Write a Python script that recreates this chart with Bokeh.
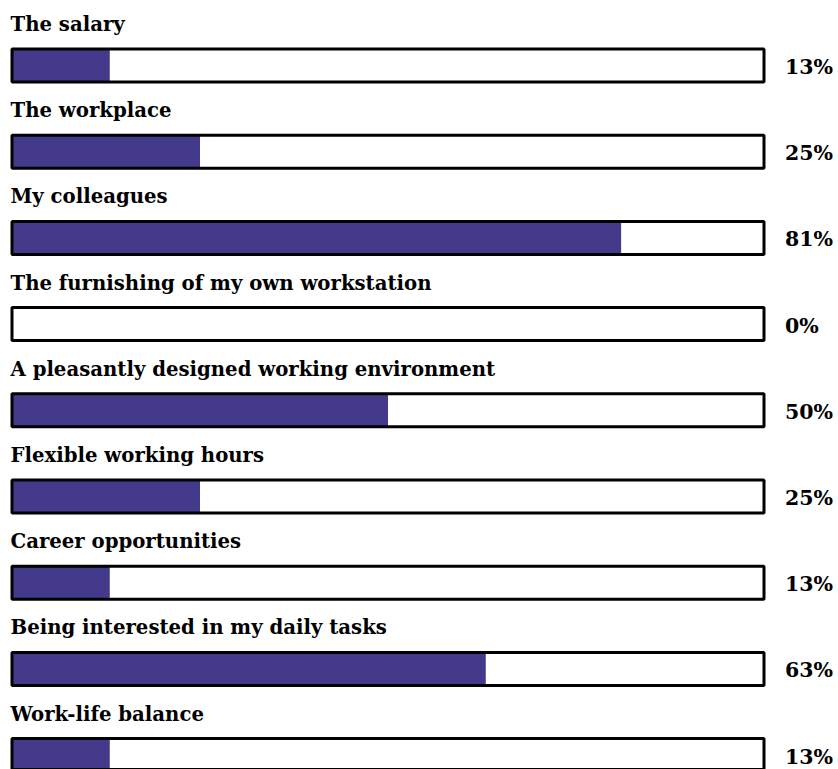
from bokeh.plotting import figure
from bokeh.models import Range1d, ColumnDataSource
from bokeh.core.properties import value
from bokeh.embed import file_html
from bokeh.resources import INLINE

categories = [
    "The salary",
    "The workplace",
    "My colleagues",
    "The furnishing of my own workstation",
    "A pleasantly designed working environment",
    "Flexible working hours",
    "Career opportunities",
    "Being interested in my daily tasks",
    "Work-life balance",
]
percent_values = [13, 25, 81, 0, 50, 25, 13, 63, 13]
value_labels = [f"{v}%" for v in percent_values]

W, H = 838, 769
px_per_pct = 7.52
x0 = -11.5 / px_per_pct
x1 = x0 + W / px_per_pct
row_px = 86.2
y_top = (0 - 65.0) / row_px
y_bot = y_top + H / row_px

rows = list(range(len(categories)))
src = ColumnDataSource(dict(
    row=rows,
    cat=categories,
    val=percent_values,
    lab=value_labels,
    zero=[0] * len(rows),
    full=[100] * len(rows),
    lab_y=[r - 41 / row_px for r in rows],
    pct_y=[r + 1.5 / row_px for r in rows],
    lab_x=[-0.2] * len(rows),
    pct_x=[102.8] * len(rows),
))

p = figure(width=W, height=H, output_backend="svg", toolbar_location=None,
           x_range=Range1d(x0, x1), y_range=Range1d(y_bot, y_top),
           min_border=0, outline_line_color=None)
p.axis.visible = False
p.grid.visible = False

bh = 33 / row_px
p.hbar(y="row", left="zero", right="full", height=bh, source=src,
       fill_color="white", line_color=None)
p.hbar(y="row", left="zero", right="val", height=bh, source=src,
       fill_color="#433A8C", line_color=None)
p.hbar(y="row", left="zero", right="full", height=bh, source=src,
       fill_color=None, line_color="black", line_width=3)

p.text(x="lab_x", y="lab_y", text="cat", source=src,
       text_font=value("DejaVu Serif"), text_font_style="bold",
       text_font_size="19.7px", text_color="black", text_baseline="alphabetic")
p.text(x="pct_x", y="pct_y", text="lab", source=src,
       text_font=value("DejaVu Serif"), text_font_style="bold",
       text_font_size="20.5px", text_color="black", text_baseline="alphabetic")

open("out.html", "w").write(file_html(p, INLINE))
